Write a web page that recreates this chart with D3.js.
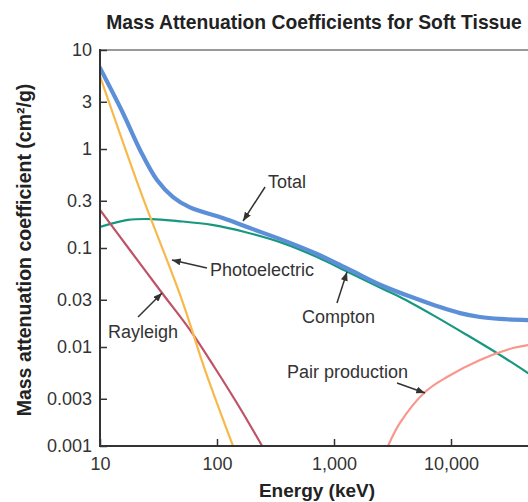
<!DOCTYPE html>
<html>
<head>
<meta charset="utf-8">
<script src="https://cdn.jsdelivr.net/npm/d3@7"></script>
<style>
  body { margin: 0; background: #fff; }
  svg { display: block; }
  text { font-family: "Liberation Sans", Arial, Helvetica, sans-serif; }
</style>
</head>
<body>
<svg id="chart" width="528" height="502"></svg>
<script>
// Axis ticks
const energyTicks = [10, 100, 1000, 10000];
const coeffTicks = [0.001, 0.003, 0.01, 0.03, 0.1, 0.3, 1, 3, 10];
const coeffTickLabels = ["0.001", "0.003", "0.01", "0.03", "0.1", "0.3", "1", "3", "10"];

// Interaction cross sections, [energy keV, coefficient cm²/g]
const total = [
  [10, 6.58], [15.7, 2.31], [22.0, 0.977], [30.7, 0.486], [42.1, 0.327],
  [58.7, 0.257], [112, 0.201], [191, 0.159], [366, 0.120], [716, 0.0870],
  [1371, 0.060], [2624, 0.0413], [5120, 0.0305], [8050, 0.0253],
  [11950, 0.0220], [17700, 0.0201], [26200, 0.0192], [45500, 0.0187]
];
const photoelectric = [
  [10, 5.46], [22.0, 0.385], [50.2, 0.0298], [78.9, 0.00586], [137, 0.001]
];
const rayleigh = [
  [10, 0.242], [18.0, 0.0955], [33.9, 0.0351], [58.7, 0.0149],
  [96.1, 0.00614], [157, 0.00242], [243, 0.001]
];
const compton = [
  [10, 0.163], [17.3, 0.192], [27.8, 0.196], [46.4, 0.187], [90.5, 0.171],
  [173, 0.145], [366, 0.112], [716, 0.0811], [1371, 0.0559], [2624, 0.0385],
  [3664, 0.0320], [7015, 0.0210], [13710, 0.0132], [26240, 0.0083], [45500, 0.00546]
];
const pairProduction = [
  [2896, 0.001], [3664, 0.00171], [5998, 0.00351], [9247, 0.00498],
  [17700, 0.0074], [33880, 0.00977], [45500, 0.01047]
];

const W = 528, H = 502;
const plotLeft = 100, plotTop = 50, plotBottom = 446, plotRight = W;

const svg = d3.select("#chart");

const x = d3.scaleLog().domain([10, 10000]).range([plotLeft, 451]);
const y = d3.scaleLog().domain([0.001, 10]).range([plotBottom, plotTop]);

// Title
svg.append("text")
  .attr("x", 314).attr("y", 29)
  .attr("text-anchor", "middle")
  .attr("font-size", 19.3).attr("font-weight", "bold")
  .attr("fill", "#222")
  .text("Mass Attenuation Coefficients for Soft Tissue");

// Frame top
svg.append("line")
  .attr("x1", plotLeft).attr("x2", plotRight).attr("y1", plotTop).attr("y2", plotTop)
  .attr("stroke", "#999").attr("stroke-width", 2);

// Curves
svg.append("clipPath").attr("id", "plot-clip")
  .append("rect").attr("x", plotLeft).attr("y", plotTop)
  .attr("width", plotRight - plotLeft).attr("height", plotBottom - plotTop);

const line = d3.line()
  .x(d => x(d[0])).y(d => y(d[1]))
  .curve(d3.curveCatmullRom.alpha(0.5));

const curves = svg.append("g").attr("clip-path", "url(#plot-clip)");
const series = [
  { data: compton, color: "#17977f", width: 2.2 },
  { data: rayleigh, color: "#bf5366", width: 2.2 },
  { data: pairProduction, color: "#f8978b", width: 2.2 },
  { data: photoelectric, color: "#f8b94c", width: 2.2 },
  { data: total, color: "#5b8fd8", width: 4.2 }
];
series.forEach(s => {
  curves.append("path")
    .attr("d", line(s.data))
    .attr("fill", "none")
    .attr("stroke", s.color)
    .attr("stroke-width", s.width)
    .attr("stroke-linecap", "round")
    .attr("stroke-linejoin", "round");
});

// Axes
const xAxis = d3.axisBottom(x)
  .tickValues(energyTicks)
  .tickFormat(d3.format(","))
  .tickSize(-7).tickSizeOuter(0).tickPadding(11);
const gx = svg.append("g").attr("transform", `translate(0,${plotBottom})`).call(xAxis);

const yAxis = d3.axisLeft(y)
  .tickValues(coeffTicks)
  .tickFormat((d, i) => coeffTickLabels[i])
  .tickSize(-7).tickSizeOuter(0).tickPadding(8);
const gy = svg.append("g").attr("transform", `translate(${plotLeft},0)`).call(yAxis);

[gx, gy].forEach(g => {
  g.select(".domain").remove();
  g.selectAll(".tick line").attr("stroke", "#333").attr("stroke-width", 1.5);
  g.selectAll(".tick text")
    .attr("font-size", 18).attr("fill", "#333")
    .style("font-family", '"Liberation Sans", Arial, Helvetica, sans-serif');
});

svg.append("line")
  .attr("x1", plotLeft).attr("x2", plotRight).attr("y1", plotBottom).attr("y2", plotBottom)
  .attr("stroke", "#333").attr("stroke-width", 2);
svg.append("line")
  .attr("x1", plotLeft).attr("x2", plotLeft).attr("y1", plotTop - 1).attr("y2", plotBottom + 1)
  .attr("stroke", "#333").attr("stroke-width", 2);

// Axis titles
svg.append("text")
  .attr("x", 317).attr("y", 497)
  .attr("text-anchor", "middle")
  .attr("font-size", 19).attr("font-weight", "bold").attr("fill", "#222")
  .text("Energy (keV)");

svg.append("text")
  .attr("transform", "translate(31,250) rotate(-90)")
  .attr("text-anchor", "middle")
  .attr("font-size", 19.5).attr("font-weight", "bold").attr("fill", "#222")
  .text("Mass attenuation coefficient (cm²/g)");

// Arrow labels: tip in data space, tail and text as offsets from the tip
const defs = svg.append("defs");
defs.append("marker")
  .attr("id", "arrowhead")
  .attr("viewBox", "0 0 10 8")
  .attr("refX", 10).attr("refY", 4)
  .attr("markerWidth", 9).attr("markerHeight", 7)
  .attr("markerUnits", "userSpaceOnUse")
  .attr("orient", "auto")
  .append("path").attr("d", "M0,0 L10,4 L0,8 Z").attr("fill", "#333");

const labels = [
  { text: "Total", at: [167, 0.1874], tail: [22, -34], pos: [25, -33] },
  { text: "Photoelectric", at: [41.2, 0.0756], tail: [35, 8], pos: [38, 16] },
  { text: "Compton", at: [1291, 0.0572], tail: [-10, 31], pos: [-45, 51] },
  { text: "Rayleigh", at: [33.9, 0.0351], tail: [-24, 24], pos: [-54, 45] },
  { text: "Pair production", at: [5998, 0.00343], tail: [-28, -10], pos: [-138, -15] }
];

labels.forEach(l => {
  const tx = x(l.at[0]), ty = y(l.at[1]);
  svg.append("line")
    .attr("x1", tx + l.tail[0]).attr("y1", ty + l.tail[1])
    .attr("x2", tx).attr("y2", ty)
    .attr("stroke", "#333").attr("stroke-width", 1.5)
    .attr("marker-end", "url(#arrowhead)");
  svg.append("text")
    .attr("x", tx + l.pos[0]).attr("y", ty + l.pos[1])
    .attr("font-size", 18).attr("fill", "#333")
    .text(l.text);
});
</script>
</body>
</html>
